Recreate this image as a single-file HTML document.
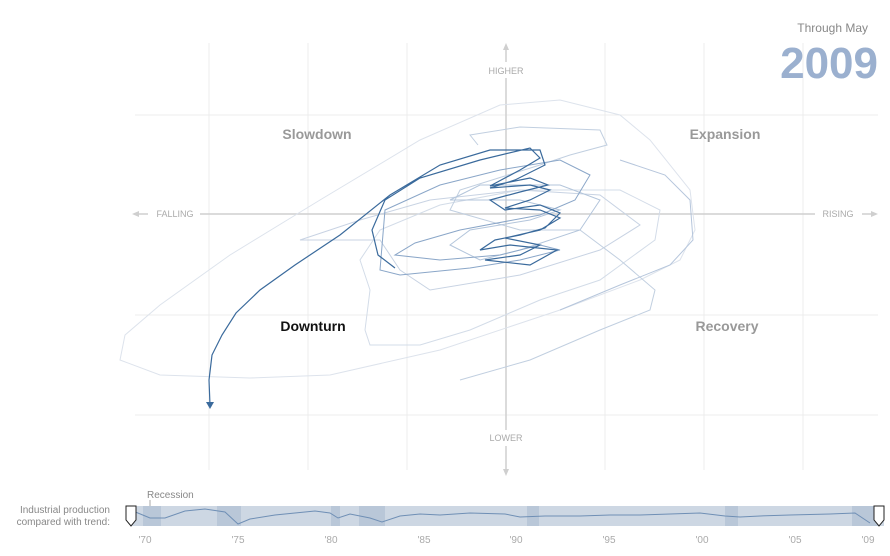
<!DOCTYPE html>
<html><head><meta charset="utf-8"><style>
body{margin:0;background:#fff;width:890px;height:551px;overflow:hidden;font-family:"Liberation Sans",sans-serif;}
</style></head><body>
<svg width="890" height="551" xmlns="http://www.w3.org/2000/svg" font-family="Liberation Sans, sans-serif">
<g stroke="#ececec" stroke-width="1">
<line x1="209" y1="43" x2="209" y2="470"/><line x1="308" y1="43" x2="308" y2="470"/><line x1="407" y1="43" x2="407" y2="470"/><line x1="605" y1="43" x2="605" y2="470"/><line x1="704" y1="43" x2="704" y2="470"/><line x1="803" y1="43" x2="803" y2="470"/>
<line x1="135" y1="115" x2="878" y2="115"/><line x1="135" y1="315" x2="878" y2="315"/><line x1="135" y1="415" x2="878" y2="415"/>
</g>
<g stroke="#cfcfcf" stroke-width="1.5">
<line x1="506" y1="48" x2="506" y2="62"/><line x1="506" y1="78" x2="506" y2="430"/><line x1="506" y1="446" x2="506" y2="472"/>
<line x1="138" y1="214" x2="148" y2="214"/><line x1="200" y1="214" x2="815" y2="214"/><line x1="862" y1="214" x2="872" y2="214"/>
</g>
<g fill="#cfcfcf"><polygon points="506,43 503,50 509,50"/><polygon points="506,476 503,469 509,469"/><polygon points="132,214 139,211 139,217"/><polygon points="878,214 871,211 871,217"/></g>
<g font-size="9" fill="#aaa" text-anchor="middle"><text x="506" y="74">HIGHER</text><text x="506" y="441">LOWER</text><text x="175" y="217">FALLING</text><text x="838" y="217">RISING</text></g>
<g font-size="14" font-weight="bold" fill="#999" text-anchor="middle"><text x="317" y="139">Slowdown</text><text x="725" y="139">Expansion</text><text x="727" y="331">Recovery</text></g>
<text x="313" y="331" font-size="14" font-weight="bold" fill="#111" text-anchor="middle">Downturn</text>
<text x="868" y="32" font-size="12" fill="#888" text-anchor="end">Through May</text>
<text x="878" y="78" font-size="44" font-weight="bold" fill="#9bb0cf" text-anchor="end">2009</text>
<g fill="none">
<path d="M120,360 L125,335 L160,305 L230,255 L320,200 L420,140 L500,105 L560,100 L620,115 L650,140 L690,190 L695,230 L680,260 L640,280 L560,310 L440,350 L330,375 L250,378 L160,375 Z" stroke="#dde3ec"/>
<path d="M365,330 L370,290 L360,260 L380,230 L440,205 L520,190 L620,190 L660,210 L655,240 L600,280 L540,300 L470,330 L420,345 L370,345 Z" stroke="#d3dce8"/>
<path d="M300,240 L360,220 L430,200 L520,190 L600,195 L640,225 L600,250 L520,275 L430,290 L400,270 L380,240 Z" stroke="#c8d3e3"/>
<path d="M478,145 L470,135 L520,127 L600,130 L607,145 L570,155 L540,165 L460,190 L450,210 L520,230 L580,230 L620,260 L655,290 L650,310 L600,330 L530,360 L460,380" stroke="#c1cfe0"/>
<path d="M450,200 L480,185 L560,185 L600,200 L580,230 L520,250 L480,260 L450,245 L470,230 L530,220 L560,210 L520,200 Z" stroke="#b3c5db"/>
<path d="M620,160 L665,175 L690,200 L693,240 L670,265 L620,285 L560,310" stroke="#b6c6dc"/>
<path d="M385,210 L440,185 L500,170 L560,160 L590,175 L575,200 L540,215 L460,230 L415,243 L395,255 L440,260 L500,255 L540,245 L560,250 L520,260 L470,268 L400,275 L380,270 Z" stroke="#8aa6c8"/>
<path d="M210,405 L209,380 L212,355 L222,335 L236,313 L260,290 L295,265 L340,235 L390,195 L440,165 L490,150 L540,150 L545,165 L515,180 L490,188 L530,185 L550,190 L530,200 L505,208 L540,210 L560,218 L540,230 L505,238 L540,245 L520,255 L485,260 L530,265 L557,250 L510,245 L480,250 L495,240 L520,235 L545,228 L560,213 L540,205 L505,210 L490,200 L520,192 L548,185 L530,178 L490,186 L520,170 L540,158 L530,148 L480,160 L420,178 L385,200 L372,230 L378,255 L395,268" stroke="#3a6a9c" stroke-width="1.2"/>
</g>
<polygon points="206,402 214,402 210,409" fill="#3a6a9c"/>
<text x="147" y="498" font-size="10" fill="#888">Recession</text>
<line x1="150" y1="500" x2="150" y2="506" stroke="#aaa"/>
<text x="110" y="513" font-size="10" fill="#888" text-anchor="end">Industrial production</text>
<text x="110" y="525" font-size="10" fill="#888" text-anchor="end">compared with trend:</text>
<rect x="130" y="506" width="754" height="20" fill="#cdd7e3"/>
<g fill="#b9c7d8"><rect x="143" y="506" width="18" height="20"/><rect x="217" y="506" width="24" height="20"/><rect x="331" y="506" width="9" height="20"/><rect x="359" y="506" width="26" height="20"/><rect x="527" y="506" width="12" height="20"/><rect x="725" y="506" width="13" height="20"/><rect x="852" y="506" width="28" height="20"/></g>
<path d="M133,511 L150,518 L165,518 L185,511 L205,509 L225,512 L238,524 L250,519 L275,515 L295,513 L315,511 L330,513 L338,518 L350,514 L370,518 L382,522 L400,516 L420,514 L440,515 L470,513 L505,514 L520,517 L545,516 L580,516 L610,515 L640,515 L670,514 L700,513 L725,516 L740,517 L760,516 L790,515 L830,514 L855,513 L870,523" fill="none" stroke="#6f8fb5" stroke-width="1"/>
<path d="M126,506 h10 v14 l-5,6 l-5,-6 z" fill="#fff" stroke="#222"/>
<path d="M874,506 h10 v14 l-5,6 l-5,-6 z" fill="#fff" stroke="#222"/>
<g font-size="10" fill="#aaa" text-anchor="middle"><text x="145" y="543">'70</text><text x="238" y="543">'75</text><text x="331" y="543">'80</text><text x="424" y="543">'85</text><text x="516" y="543">'90</text><text x="609" y="543">'95</text><text x="702" y="543">'00</text><text x="795" y="543">'05</text><text x="868" y="543">'09</text></g>
</svg>
</body></html>
